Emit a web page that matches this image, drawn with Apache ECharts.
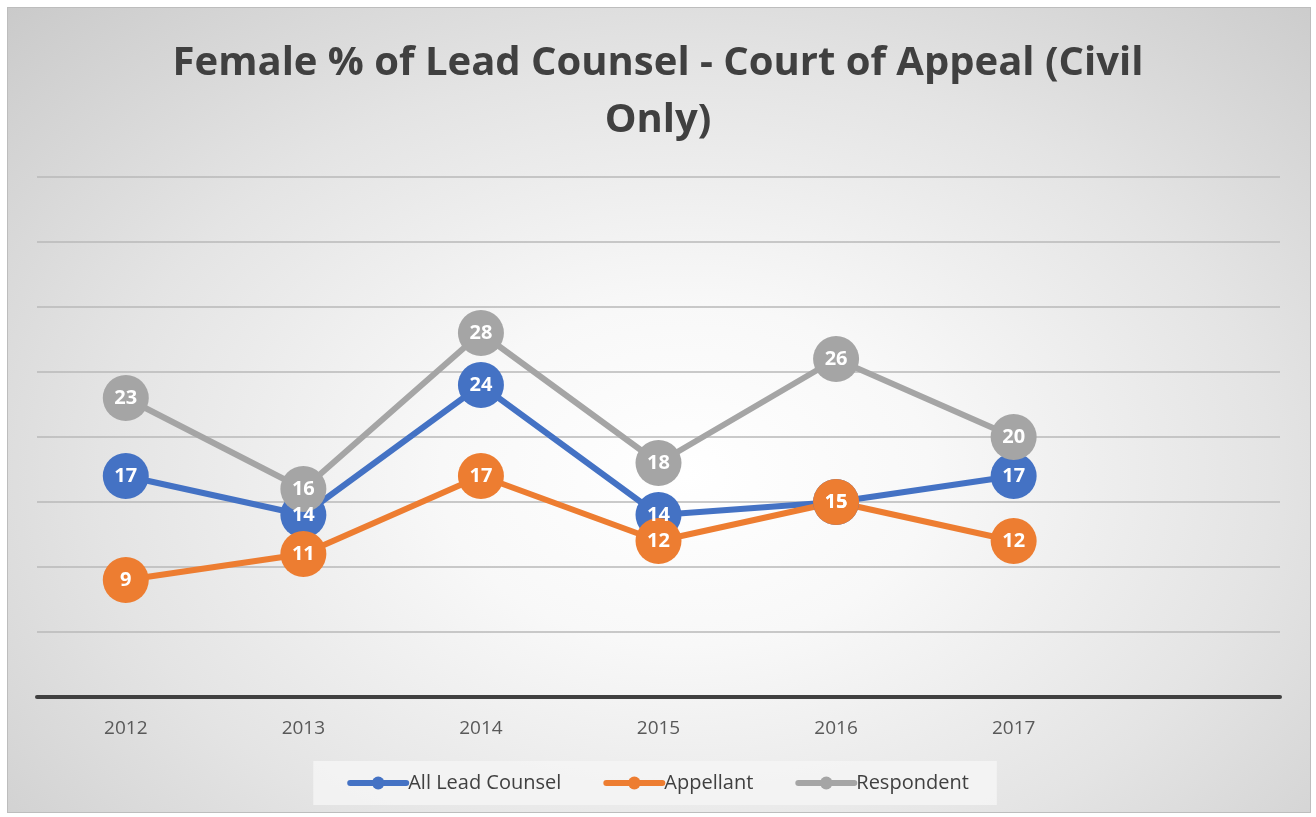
<!DOCTYPE html>
<html>
<head>
<meta charset="utf-8">
<script src="https://cdn.jsdelivr.net/npm/echarts@6/dist/echarts.min.js"></script>
<style>
  html, body { margin: 0; padding: 0; width: 1316px; height: 817px; background: #ffffff; overflow: hidden; }
  #bg { position: absolute; left: 7px; top: 7px; width: 1302px; height: 804px;
        border: 1px solid #bdbdbd;
        background: radial-gradient(ellipse 75% 85% at 52% 58%, #ffffff 0%, #f8f8f8 25%, #e4e4e4 60%, #c8c8c8 100%); }
  #chart { position: absolute; left: 0; top: 0; width: 1316px; height: 817px; }
</style>
</head>
<body>
<div id="bg"></div>
<div id="chart"></div>
<script>
const titleText = 'Female % of Lead Counsel - Court of Appeal (Civil\nOnly)';
const categories = ['2012', '2013', '2014', '2015', '2016', '2017', ''];
const seriesNames = ['All Lead Counsel', 'Appellant', 'Respondent'];
const allLeadCounsel = [17, 14, 24, 14, 15, 17];
const appellant = [9, 11, 17, 12, 15, 12];
const respondent = [23, 16, 28, 18, 26, 20];
const colors = ['#4472C4', '#ED7D31', '#A5A5A5'];

const chart = echarts.init(document.getElementById('chart'), null, { renderer: 'canvas' });
const font = '"Open Sans", "Noto Sans", sans-serif';

function mkSeries(name, data, color) {
  return {
    name: name,
    type: 'line',
    data: data,
    symbol: 'circle',
    symbolSize: 46,
    itemStyle: { color: color },
    lineStyle: { color: color, width: 6 },
    label: {
      show: true,
      position: 'inside',
      color: '#ffffff',
      fontFamily: font,
      fontWeight: 'bold',
      fontSize: 20
    },
    emphasis: { disabled: true },
    animation: false
  };
}

chart.setOption({
  backgroundColor: 'transparent',
  color: colors,
  title: {
    text: titleText,
    left: 'center',
    top: 30,
    textStyle: {
      fontFamily: font,
      fontWeight: 'bold',
      fontSize: 40,
      color: '#404040',
      lineHeight: 57
    }
  },
  grid: { left: 37, right: 36, top: 177, bottom: 120 },
  xAxis: {
    type: 'category',
    data: categories,
    boundaryGap: true,
    axisLine: { show: true, lineStyle: { color: '#404040', width: 4 } },
    axisTick: { show: false },
    axisLabel: { color: '#595959', fontFamily: font, fontSize: 19, margin: 22 },
    splitLine: { show: false }
  },
  yAxis: {
    type: 'value',
    min: 0,
    max: 40,
    interval: 5,
    axisLine: { show: false },
    axisTick: { show: false },
    axisLabel: { show: false },
    splitLine: { show: true, lineStyle: { color: '#b8b8b8', width: 1.5 } }
  },
  legend: {
    data: seriesNames,
    bottom: 12,
    left: 'center',
    itemWidth: 56,
    itemHeight: 16,
    itemGap: 42,
    padding: [12, 28, 12, 34],
    backgroundColor: 'rgba(245,245,245,0.85)',
    lineStyle: { width: 6, cap: 'round' },
    textStyle: { color: '#404040', fontFamily: font, fontSize: 20, padding: [0, 0, 0, -3] }
  },
  series: [
    mkSeries(seriesNames[0], allLeadCounsel, colors[0]),
    mkSeries(seriesNames[1], appellant, colors[1]),
    mkSeries(seriesNames[2], respondent, colors[2])
  ]
});
</script>
</body>
</html>
